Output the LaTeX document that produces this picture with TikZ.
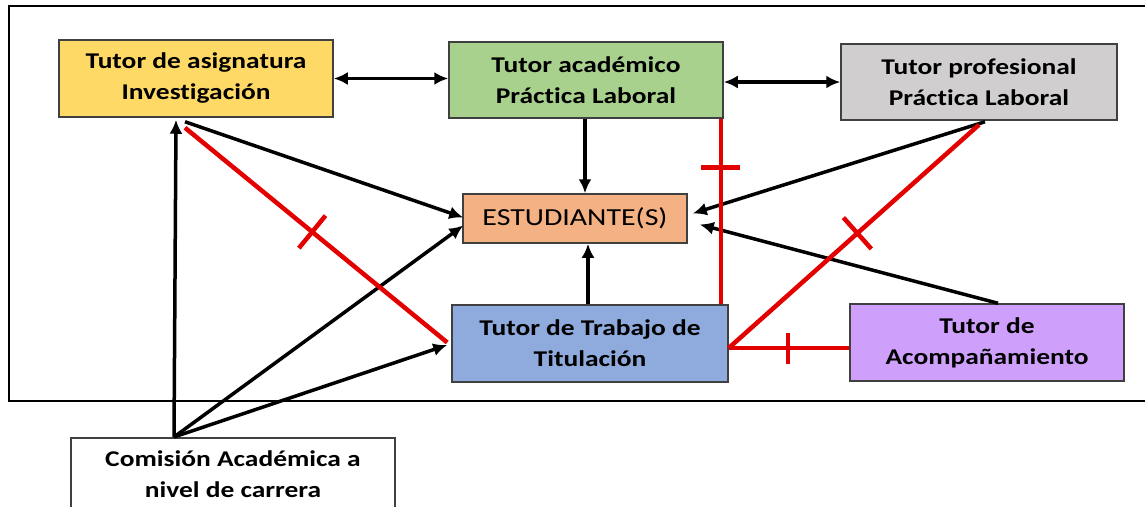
\documentclass[tikz,border=0pt]{standalone}
\usepackage{fontspec}
\newfontfamily\cfont[FakeStretch=1.22,Ligatures={NoCommon}]{Carlito}
\usetikzlibrary{arrows.meta}
\definecolor{cYel}{HTML}{FFD966}
\definecolor{cGrn}{HTML}{A9D18E}
\definecolor{cGry}{HTML}{D0CECE}
\definecolor{cOra}{HTML}{F4B183}
\definecolor{cBlu}{HTML}{8FAADC}
\definecolor{cPur}{HTML}{CFA0FB}
\definecolor{cRed}{RGB}{226,0,0}
\definecolor{cBrd}{HTML}{404040}
\tikzset{
  tbox/.style={draw=cBrd, line width=1.5pt, align=center, inner sep=0pt,
    minimum width=#1, font=\cfont\bfseries\fontsize{22.5}{31}\selectfont},
  arr/.style={line width=3.5pt, -{Latex[length=14pt,width=13pt]}},
  dbl/.style={line width=3.5pt, {Latex[length=14pt,width=13pt]}-{Latex[length=14pt,width=13pt]}},
  rline/.style={draw=cRed, line width=4.5pt},
  tick/.style={sloped, fill=cRed, inner sep=0pt, minimum width=4.5pt, minimum height=#1}
}
\begin{document}
\begin{tikzpicture}[x=1pt,y=-1pt]
\useasboundingbox (0,0) rectangle (1145,506);
% outer frame
\draw[line width=2.5pt] (1145,6) -- (9,6) -- (9,401) -- (1145,401);
% boxes
\node[tbox=274pt, fill=cYel, minimum height=77pt] (asig) at (196,78.5) {Tutor de asignatura\\Investigación};
\node[tbox=274pt, fill=cGrn, minimum height=76pt] (acad) at (586,80) {Tutor académico\\Práctica Laboral};
\node[tbox=276pt, fill=cGry, minimum height=76pt] (prof) at (979,82) {Tutor profesional\\Práctica Laboral};
\node[tbox=224pt, fill=cOra, minimum height=49pt, font=\cfont\fontsize{24.5}{30}\selectfont] (est) at (575,218.5) {ESTUDIANTE(S)};
\node[tbox=276pt, fill=cBlu, minimum height=77pt] (trab) at (590,343.5) {Tutor de Trabajo de\\Titulación};
\node[tbox=274pt, fill=cPur, minimum height=77pt] (acom) at (987,342.5) {Tutor de\\Acompañamiento};
\node[tbox=324pt, fill=white, anchor=north, inner ysep=13pt] (com) at (233,437) {Comisión Académica a\\nivel de carrera};
% black connectors
\coordinate (comT) at ([shift={(-59,0)}]com.north);
\draw[dbl] (asig.east) -- (asig.east -| acad.west);
\draw[dbl] ([shift={(0,2)}]acad.east) -- ([shift={(0,2)}]acad.east -| prof.west);
\draw[arr] ([shift={(-1,0)}]acad.south) -- ([shift={(-1,0)}]acad.south |- est.north);
\draw[arr] ([shift={(-2,0)}]trab.north) -- ([shift={(-2,0)}]trab.north |- est.south);
\draw[arr] ([shift={(-11,4)}]asig.south) -- ([shift={(1,-1)}]est.west);
\draw[arr] (comT) -- ([shift={(-20,2)}]asig.south);
\draw[arr] (comT) -- ([shift={(1,7)}]est.west);
\draw[arr] (comT) -- ([shift={(-4,1.5)}]trab.west);
\draw[arr] ([shift={(6,1)}]prof.south) -- ([shift={(5,-5)}]est.east);
\draw[arr] ([shift={(11,0)}]acom.north) -- ([shift={(12,6)}]est.east);
% red connectors
\draw[rline] ([shift={(-11,10)}]asig.south) -- ([shift={(-4,-1)}]trab.west)
  node[tick=42pt, pos=0.485] (t1) {};
\draw[rline] ([shift={(-3,0)}]acad.south east) -- ([shift={(-3,0)}]acad.south east |- trab.north)
  node[tick=39pt, pos=0.262] (t2) {};
\draw[rline] ([shift={(0,4)}]prof.south) -- ([shift={(0,4.5)}]trab.east)
  node[tick=42pt, pos=0.486] (t3) {};
\draw[rline] ([shift={(0,4.5)}]trab.east) -- ([shift={(0,4.5)}]trab.east -| acom.west)
  node[tick=31pt, pos=0.49] (t4) {};
\end{tikzpicture}
\end{document}
